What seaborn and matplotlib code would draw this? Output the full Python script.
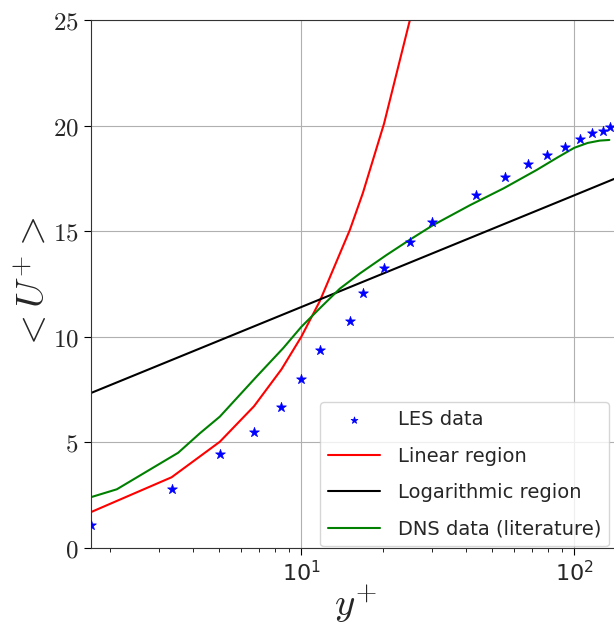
import numpy as np
import pandas as pd
import seaborn as sns
import matplotlib
matplotlib.use('Agg')
import matplotlib.pyplot as plt
from matplotlib.ticker import FuncFormatter

# LES data (y+, <U+>)
y_les = [1.69, 3.35, 5.03, 6.71, 8.46, 10.0, 11.69, 15.06, 16.8, 20.1, 25.1,
         30.1, 43.5, 55.6, 67.4, 79.1, 92.5, 104.5, 116.2, 127.5, 134.9]
u_les = [1.09, 2.79, 4.45, 5.49, 6.68, 8.0, 9.38, 10.76, 12.07, 13.27, 14.47,
         15.45, 16.73, 17.55, 18.17, 18.61, 19.0, 19.35, 19.65, 19.74, 19.95]

# linear region u+ = y+ (same y+ points)
y_lin = y_les
u_lin = y_les

# logarithmic region
y_log = [1.69, 10.0, 100.0, 200.0]
u_log = [7.33, 11.41, 16.70, 18.30]

# DNS data (literature)
y_dns = [1.69, 2.11, 3.54, 4.25, 5.03, 6.85, 8.58, 10.0, 11.69, 13.84, 16.39,
         20.5, 25.0, 30.4, 41.6, 55.1, 72.8, 87.0, 100.0, 112.0, 124.0, 134.4]
u_dns = [2.40, 2.78, 4.51, 5.43, 6.22, 8.11, 9.46, 10.47, 11.35, 12.28, 13.0,
         13.87, 14.6, 15.29, 16.24, 17.03, 17.9, 18.5, 18.95, 19.18, 19.29, 19.32]

sns.set_style('ticks', {'axes.grid': True, 'grid.color': '#b0b0b0',
                        'axes.edgecolor': '#333333', 'xtick.direction': 'out',
                        'ytick.direction': 'out'})
plt.rcParams['font.family'] = ['DejaVu Sans']
plt.rcParams['mathtext.fontset'] = 'cm'
plt.rcParams['axes.formatter.use_mathtext'] = True

fig = plt.figure(figsize=(6.14, 6.25), dpi=100)
ax = fig.add_axes([90.5 / 614, 1 - 548 / 625, (620 - 90.5) / 614, 528 / 625])

sns.scatterplot(x=y_les, y=u_les, marker='*', color='blue', s=55,
                edgecolor='blue', linewidth=0.5, label='LES data', ax=ax, zorder=3)
sns.lineplot(x=y_lin, y=u_lin, color='red', lw=1.5, label='Linear region', ax=ax,
             sort=False, estimator=None)
sns.lineplot(x=y_log, y=u_log, color='black', lw=1.5, label='Logarithmic region',
             ax=ax, sort=False, estimator=None)
sns.lineplot(x=y_dns, y=u_dns, color='green', lw=1.5, label='DNS data (literature)',
             ax=ax, sort=False, estimator=None)

ax.set_xscale('log')
ax.set_xlim(1.69, 147)
ax.set_ylim(0, 25)
ax.set_yticks([0, 5, 10, 15, 20, 25])
ax.yaxis.set_major_formatter(FuncFormatter(lambda v, p: r'$%d$' % v))
ax.tick_params(axis='y', which='major', labelsize=18, length=5, color='black')
ax.tick_params(axis='x', which='major', labelsize=16, length=5, color='black')
ax.tick_params(axis='x', which='minor', length=3, color='black')
ax.grid(True, which='major', color='#b0b0b0', lw=0.8)
ax.grid(False, which='minor')

ax.set_xlabel(r'$y^{+}$', fontsize=28, labelpad=-2)
ax.set_ylabel(r'$<U^{+}>$', fontsize=28, labelpad=0)

ax.legend(loc='lower right', bbox_to_anchor=(0.979, 0.003), borderaxespad=0,
          fontsize=14, handlelength=2.7, handletextpad=0.9, labelspacing=0.9,
          markerscale=0.7, frameon=True, framealpha=0.8, edgecolor='#cccccc',
          fancybox=True)

fig.savefig('out.png', dpi=100)
